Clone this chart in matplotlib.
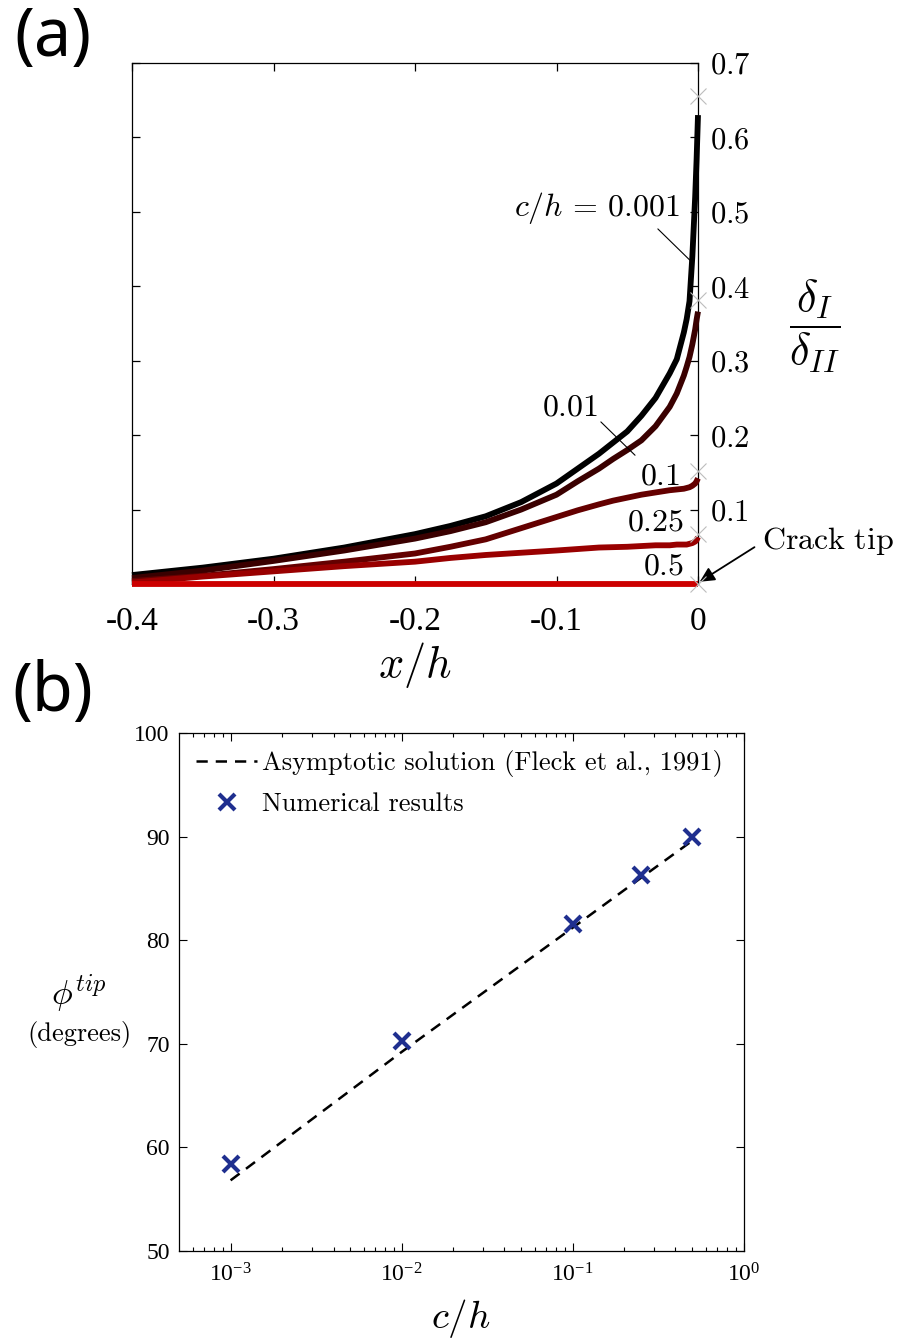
import matplotlib
matplotlib.use("Agg")
import matplotlib.pyplot as plt
from matplotlib.ticker import FixedLocator, FixedFormatter, LogLocator, NullFormatter

plt.rcParams["mathtext.fontset"] = "cm"
plt.rcParams["font.family"] = ["Liberation Serif", "DejaVu Serif"]
plt.rcParams["axes.unicode_minus"] = False

W, H = 898, 1341

# ---- panel (a): opening ratio along the crack face ----
x_h = [-0.4, -0.35, -0.3, -0.25, -0.2, -0.175, -0.15, -0.125, -0.1, -0.085, -0.07,
       -0.06, -0.05, -0.04, -0.03, -0.02, -0.015, -0.01, -0.008, -0.006, -0.004,
       -0.002, -0.001, 0.0]
ratio_0001 = [0.012, 0.022, 0.034, 0.049, 0.067, 0.078, 0.091, 0.110, 0.135, 0.155, 0.175,
              0.190, 0.205, 0.226, 0.250, 0.283, 0.302, 0.338, 0.356, 0.380, 0.440,
              0.520, 0.570, 0.630]
ratio_001 = [0.008, 0.018, 0.031, 0.045, 0.061, 0.071, 0.083, 0.100, 0.120, 0.138, 0.155,
             0.168, 0.180, 0.193, 0.212, 0.238, 0.256, 0.280, 0.292, 0.305, 0.322,
             0.342, 0.355, 0.366]
ratio_01 = [0.004, 0.011, 0.020, 0.030, 0.041, 0.050, 0.060, 0.075, 0.090, 0.099, 0.107,
            0.112, 0.116, 0.120, 0.123, 0.126, 0.127, 0.128, 0.129, 0.130, 0.132,
            0.135, 0.138, 0.142]
ratio_025 = [0.002, 0.010, 0.017, 0.024, 0.030, 0.035, 0.039, 0.042, 0.045, 0.047, 0.049,
             0.0495, 0.050, 0.051, 0.052, 0.052, 0.053, 0.053, 0.053, 0.054, 0.055,
             0.057, 0.059, 0.063]
ratio_05 = [0.0] * len(x_h)
tip_ratio = [0.655, 0.381, 0.152, 0.067, 0.0]   # gray crosses at the crack tip

curve_colors = ["#000000", "#3a0000", "#640000", "#990000", "#cc0000"]
a_yticks = [0.1, 0.2, 0.3, 0.4, 0.5, 0.6, 0.7]
a_xticks = [-0.4, -0.3, -0.2, -0.1, 0.0]
a_xticklabels = ["-0.4", "-0.3", "-0.2", "-0.1", "0"]

# ---- panel (b): tip phase angle ----
ch_num = [0.001, 0.01, 0.1, 0.25, 0.5]
phi_num = [58.4, 70.3, 81.6, 86.3, 90.0]
ch_asym = [0.001, 0.01, 0.1, 0.25, 0.5]
phi_asym = [56.8, 69.2, 81.2, 86.0, 89.6]
b_yticks = [50, 60, 70, 80, 90, 100]


def px(x, y):
    return x / W, 1 - y / H


fig = plt.figure(figsize=(W / 100, H / 100), dpi=100)

ax = fig.add_axes([132 / W, 1 - 584 / H, 566 / W, 521 / H])
for r, col in zip([ratio_0001, ratio_001, ratio_01, ratio_025, ratio_05], curve_colors):
    ax.plot(x_h, r, color=col, lw=4.2, solid_capstyle="butt", solid_joinstyle="round",
            clip_on=False, zorder=3)
ax.plot([0.0] * len(tip_ratio), tip_ratio, ls="none", marker="x", ms=11, mew=0.8,
        color="#bdbdbd", clip_on=False, zorder=4)
ax.set_xlim(-0.4, 0.0)
ax.set_ylim(0, 0.7)
ax.yaxis.set_major_locator(FixedLocator(a_yticks))
ax.yaxis.set_major_formatter(FixedFormatter(["$%.1f$" % v for v in a_yticks]))
ax.xaxis.set_major_locator(FixedLocator(a_xticks))
ax.xaxis.set_major_formatter(FixedFormatter(a_xticklabels))
ax.tick_params(direction="in", length=6, width=0.9, top=True, left=True, right=True,
               labelleft=False, labelright=True)
ax.tick_params(axis="y", labelsize=22, pad=9)
ax.tick_params(axis="x", labelsize=24, pad=16)
for s in ax.spines.values():
    s.set_linewidth(0.9)

ax.annotate("$c/h\\,=\\,0.001$", xy=(-0.0057, 0.435), xytext=(-0.0128, 0.505),
            textcoords="data", fontsize=23, ha="right", va="center",
            arrowprops=dict(arrowstyle="-", lw=0.8, color="k", shrinkA=0, shrinkB=0,
                            relpos=(0.85, 0.0)))
ax.annotate("$0.01$", xy=(-0.0445, 0.173), xytext=(-0.0905, 0.237),
            fontsize=23, ha="center", va="center",
            arrowprops=dict(arrowstyle="-", lw=0.8, color="k", shrinkA=0, shrinkB=0,
                            relpos=(1.0, 0.1)))
ax.text(-0.0127, 0.144, "$0.1$", fontsize=23, ha="right", va="center")
ax.text(-0.0099, 0.082, "$0.25$", fontsize=23, ha="right", va="center")
ax.text(-0.0099, 0.023, "$0.5$", fontsize=23, ha="right", va="center")
ax.annotate("$\\mathrm{Crack\\ tip}$", xy=(0.0012, 0.003), xytext=(0.0452, 0.058),
            fontsize=23, ha="left", va="center", annotation_clip=False,
            arrowprops=dict(arrowstyle="-|>", lw=1.3, color="k", mutation_scale=22,
                            shrinkA=4, shrinkB=0, relpos=(0.0, 0.45)))

fig.text(*px(815, 326), "$\\dfrac{\\delta_I}{\\delta_{II}}$", fontsize=32,
         ha="center", va="center")
fig.text(*px(415, 665), "$x/h$", fontsize=32, ha="center", va="center")
fig.text(*px(53, 38), "(a)", fontsize=48, family="Noto Sans", ha="center", va="center")

# ---- panel (b) ----
bx = fig.add_axes([179.3 / W, 1 - 1250.7 / H, 564.2 / W, 517.4 / H])
bx.semilogx(ch_asym, phi_asym, ls=(0, (4.5, 3.2)), color="k", lw=1.8,
            label="Asymptotic solution (Fleck et al., 1991)")
bx.semilogx(ch_num, phi_num, ls="none", marker="x", ms=11, mew=3.0, color="#1f2f8f",
            label="Numerical results")
bx.set_xlim(10 ** -3.3, 1.0)
bx.set_ylim(50, 100)
bx.yaxis.set_major_locator(FixedLocator(b_yticks))
bx.xaxis.set_major_locator(LogLocator(base=10, numticks=10))
bx.xaxis.set_minor_locator(LogLocator(base=10, subs=range(2, 10), numticks=10))
bx.xaxis.set_minor_formatter(NullFormatter())
bx.tick_params(which="both", direction="in", top=True, right=True, width=0.8)
bx.tick_params(which="major", length=6, labelsize=17)
bx.tick_params(which="minor", length=3)
bx.tick_params(axis="x", pad=9)
bx.tick_params(axis="y", pad=7)
for s in bx.spines.values():
    s.set_linewidth(0.9)

bx.legend(loc="upper left", bbox_to_anchor=(0.0, 1.0), frameon=False,
          prop=dict(family="cmr10", size=19),
          handlelength=2.3, handletextpad=0.2, borderaxespad=0.35, labelspacing=0.58,
          borderpad=0.3)

fig.text(*px(79, 994), "$\\phi^{tip}$", fontsize=25, ha="center", va="center")
fig.text(*px(79, 1034), "(degrees)", family="cmr10", fontsize=19, ha="center", va="center")
fig.text(*px(461, 1318), "$c/h$", fontsize=28, ha="center", va="center")
fig.text(*px(53, 693), "(b)", fontsize=48, family="Noto Sans", ha="center", va="center")

fig.savefig("out.png", dpi=100)
